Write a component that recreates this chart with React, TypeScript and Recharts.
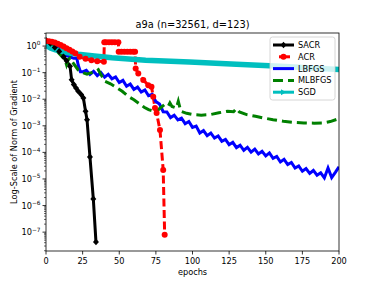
import React from 'react'
import { LineChart, Line, XAxis, YAxis } from 'recharts'

// x = epochs, y = log10(norm of gradient)
const sacrEpochs = [0, 3, 6, 9, 12, 14, 16.4, 17.5, 19, 20.5, 22, 24, 25.5, 27, 28, 30, 32.3, 34.1]
const sacrLog = [0.22, 0.1, -0.05, -0.2, -0.4, -0.55, -0.76, -1.27, -1.45, -1.58, -1.7, -1.82, -1.95, -2.45, -2.77, -4.17, -5.75, -7.37]

const acrEpochs = [0, 2, 4, 6, 8, 10, 12, 14, 16, 18, 20, 23, 27, 31, 35, 39.5, 39.8, 41, 43, 45, 47, 49.4, 49.6, 51.5, 53.5, 55.5, 57.5, 59.5, 60.8, 61.2, 63, 66.4, 69.8, 72, 73.2, 74.4, 75.5, 77.8, 80, 81]
const acrLog = [0.19, 0.18, 0.16, 0.13, 0.09, 0.04, -0.02, -0.08, -0.14, -0.2, -0.27, -0.4, -0.48, -0.53, -0.57, -0.59, 0.14, 0.14, 0.14, 0.14, 0.14, 0.14, -0.21, -0.21, -0.21, -0.21, -0.21, -0.21, -0.21, -0.84, -1.03, -1.28, -1.47, -1.53, -1.91, -2.33, -2.52, -3.16, -4.66, -7.1]

const lbfgsEpochs = [0, 3, 6, 9, 11, 13, 15, 17, 19, 21, 22, 23.5, 25, 27.5, 30, 32.5, 35, 37.5, 40, 42.5, 45, 47.5, 50, 52.5, 55, 57.5, 60, 62.5, 65, 67.5, 70, 72.5, 75, 77.5, 80, 82.5, 85, 87.5, 90, 92.5, 95, 97.5, 100, 102.5, 105, 107.5, 110, 112.5, 115, 117.5, 120, 122.5, 125, 127.5, 130, 132.5, 135, 137.5, 140, 142.5, 145, 147.5, 150, 152.5, 155, 157.5, 160, 162.5, 165, 167.5, 170, 172.5, 175, 177.5, 180, 182.5, 185, 187.5, 190, 192.5, 195, 197.5, 200]
const lbfgsLog = [0.2, 0.12, 0.03, -0.08, -0.2, -0.33, -0.38, -0.42, -0.46, -0.45, -0.72, -0.97, -0.97, -0.91, -1.07, -0.95, -1.11, -1.0, -1.17, -1.06, -1.23, -1.16, -1.37, -1.29, -1.51, -1.43, -1.63, -1.54, -1.73, -1.65, -1.87, -1.82, -2.09, -2.18, -2.47, -2.48, -2.69, -2.6, -2.78, -2.71, -2.92, -2.84, -3.06, -3.01, -3.27, -3.18, -3.37, -3.27, -3.46, -3.38, -3.58, -3.51, -3.71, -3.62, -3.82, -3.73, -3.92, -3.81, -3.99, -3.88, -4.06, -3.96, -4.13, -4.02, -4.22, -4.15, -4.36, -4.26, -4.46, -4.38, -4.59, -4.51, -4.71, -4.61, -4.79, -4.68, -4.86, -4.77, -4.96, -4.59, -4.95, -4.75, -4.54]

const mlbfgsEpochs = [0, 2, 4, 6, 8, 9.6, 11, 13, 14, 15, 16.4, 18, 20, 22, 24, 26, 28, 30, 32, 34, 35.7, 38, 40.3, 44, 47, 52, 56, 60, 63, 67, 70, 73, 75.5, 78, 81, 83.5, 84.6, 86, 89, 90.3, 92, 96, 100.5, 106, 112, 118, 124, 128, 130, 132, 137, 143, 148, 155, 162, 169, 176, 183, 189, 194, 198.4, 200]
const mlbfgsLog = [0.2, 0.1, 0.0, -0.1, -0.22, -0.32, -0.4, -0.52, -0.7, -0.52, -0.45, -0.6, -0.75, -0.9, -0.96, -1.02, -1.06, -1.02, -0.99, -0.95, -0.89, -1.12, -1.33, -1.42, -1.52, -1.7, -1.89, -2.02, -2.14, -2.3, -2.39, -2.44, -2.45, -2.33, -2.2, -2.26, -2.14, -2.27, -2.33, -2.08, -2.45, -2.53, -2.58, -2.6, -2.58, -2.51, -2.45, -2.47, -2.35, -2.48, -2.58, -2.64, -2.7, -2.77, -2.83, -2.87, -2.89, -2.9, -2.89, -2.84, -2.76, -2.72]

const sgdEpochs = [0, 1, 3, 6, 10, 15, 22, 33, 45, 68, 98, 130, 160, 200]
const sgdLog = [0.1, 0.0, -0.07, -0.13, -0.19, -0.25, -0.31, -0.37, -0.44, -0.53, -0.6, -0.68, -0.76, -0.88]

const seriesNames = ['SACR', 'ACR', 'LBFGS', 'MLBFGS', 'SGD']
const seriesColors = ['#000000', '#ff0000', '#0000ff', '#008000', '#00bfbf']

const xTicks = [0, 25, 50, 75, 100, 125, 150, 175, 200]
const yExponents = [-7, -6, -5, -4, -3, -2, -1, 0]

const Y_MIN = 1.95e-8
const Y_MAX = 3.1
const FONT = '"DejaVu Sans", Verdana, sans-serif'

const toRows = (epochs: number[], logs: number[]) =>
  epochs.map((e, i) => ({ e, v: Math.pow(10, logs[i]) }))

const sacrData = toRows(sacrEpochs, sacrLog)
const acrData = toRows(acrEpochs, acrLog)
const lbfgsData = toRows(lbfgsEpochs, lbfgsLog)
const mlbfgsData = toRows(mlbfgsEpochs, mlbfgsLog)
const sgdData = toRows(sgdEpochs, sgdLog)

// major decades plus the 2..9 minor ticks inside the domain
const minorTicks: number[] = []
for (let k = -8; k <= 0; k++) {
  for (let m = 2; m <= 9; m++) {
    const t = m * Math.pow(10, k)
    if (t >= Y_MIN && t <= Y_MAX) minorTicks.push(t)
  }
}
const yTicks = [...yExponents.map((e) => Math.pow(10, e)), ...minorTicks].sort((a, b) => a - b)

function YTick(props: any) {
  const { x, y, payload } = props
  const exp = Math.log10(payload.value)
  const major = Math.abs(exp - Math.round(exp)) < 1e-6
  if (!major) {
    return <line x1={x} x2={x - 2} y1={y} y2={y} stroke="#000" strokeWidth={0.6} />
  }
  const e = Math.round(exp)
  return (
    <g>
      <line x1={x} x2={x - 3.5} y1={y} y2={y} stroke="#000" strokeWidth={0.8} />
      <text x={x - 5.5} y={y + 3} textAnchor="end" fontSize={8.2} fill="#000" fontFamily={FONT}>
        10
        <tspan dy={-3.6} fontSize={5.8}>
          {e < 0 ? '\u2212' + -e : String(e)}
        </tspan>
      </text>
    </g>
  )
}

function XTick(props: any) {
  const { x, y, payload } = props
  return (
    <g>
      <line x1={x} x2={x} y1={y} y2={y + 3.5} stroke="#000" strokeWidth={0.8} />
      <text x={x} y={y + 12.5} textAnchor="middle" fontSize={8.2} fill="#000" fontFamily={FONT}>
        {payload.value}
      </text>
    </g>
  )
}

const diamondDot = (p: any) => (
  <path
    key={`sacr-${p.index}`}
    d={`M${p.cx},${p.cy - 3.3}L${p.cx + 3},${p.cy}L${p.cx},${p.cy + 3.3}L${p.cx - 3},${p.cy}Z`}
    fill="#000"
  />
)

const circleDot = (p: any) => (
  <circle key={`acr-${p.index}`} cx={p.cx} cy={p.cy} r={3} fill="#ff0000" />
)

function Legend() {
  const top = 45
  const step = 11.8
  return (
    <g>
      <rect x={270} y={37} width={65} height={63} rx={2.5} fill="#fff" fillOpacity={0.8} stroke="#cccccc" strokeWidth={0.8} />
      {seriesNames.map((name, i) => {
        const cy = top + i * step
        const c = seriesColors[i]
        return (
          <g key={name}>
            {i === 0 && (
              <>
                <line x1={273} x2={294} y1={cy} y2={cy} stroke={c} strokeWidth={3} />
                <path d={`M283.5,${cy - 3.3}L286.5,${cy}L283.5,${cy + 3.3}L280.5,${cy}Z`} fill={c} />
              </>
            )}
            {i === 1 && (
              <>
                <line x1={279} x2={290} y1={cy} y2={cy} stroke={c} strokeWidth={3} />
                <circle cx={283.5} cy={cy} r={3} fill={c} />
              </>
            )}
            {i === 2 && <line x1={273} x2={294} y1={cy} y2={cy} stroke={c} strokeWidth={3} />}
            {i === 3 && (
              <line x1={273} x2={294} y1={cy} y2={cy} stroke={c} strokeWidth={3} strokeDasharray="10 5" />
            )}
            {i === 4 && (
              <>
                <line x1={273} x2={294} y1={cy} y2={cy} stroke={c} strokeWidth={3} />
                <path d={`M281,${cy - 3}L286,${cy}L281,${cy + 3}Z`} fill={c} />
              </>
            )}
            <text x={298} y={cy + 3} fontSize={8.2} fill="#000" fontFamily={FONT}>
              {name}
            </text>
          </g>
        )
      })}
    </g>
  )
}

export default function App() {
  return (
    <div style={{ position: 'absolute', left: 0, top: 0, width: 376, height: 282, background: '#fff' }}>
      <LineChart width={376} height={282} margin={{ top: 33, right: 37, bottom: 0, left: 0 }}>
        <XAxis
          dataKey="e"
          type="number"
          domain={[0, 200]}
          ticks={xTicks}
          interval={0}
          allowDataOverflow
          height={31}
          tickSize={0}
          tickMargin={0}
          axisLine={false}
          tickLine={false}
          tick={<XTick />}
        />
        <YAxis
          type="number"
          scale="log"
          domain={[Y_MIN, Y_MAX]}
          ticks={yTicks}
          interval={0}
          allowDataOverflow
          width={46}
          tickSize={0}
          tickMargin={0}
          axisLine={false}
          tickLine={false}
          tick={<YTick />}
        />
        <Line data={sacrData} dataKey="v" type="linear" stroke="#000000" strokeWidth={3} dot={diamondDot} isAnimationActive={false} />
        <Line data={acrData} dataKey="v" type="linear" stroke="#ff0000" strokeWidth={3} strokeDasharray="8 3.5" dot={circleDot} isAnimationActive={false} />
        <Line data={lbfgsData} dataKey="v" type="linear" stroke="#0000ff" strokeWidth={3} dot={false} isAnimationActive={false} />
        <Line data={mlbfgsData} dataKey="v" type="linear" stroke="#008000" strokeWidth={3} strokeDasharray="10 5" dot={false} isAnimationActive={false} />
        <Line data={sgdData} dataKey="v" type="linear" stroke="#00bfbf" strokeWidth={5.5} dot={false} isAnimationActive={false} />
      </LineChart>
      <svg width={376} height={282} style={{ position: 'absolute', left: 0, top: 0, pointerEvents: 'none' }}>
        <rect x={46} y={33} width={293} height={218} fill="none" stroke="#000" strokeWidth={0.8} />
        <text x={192.5} y={28} textAnchor="middle" fontSize={9.8} fill="#000" fontFamily={FONT}>
          a9a (n=32561, d=123)
        </text>
        <text x={192.5} y={275} textAnchor="middle" fontSize={8.2} fill="#000" fontFamily={FONT}>
          epochs
        </text>
        <text transform="translate(17,142) rotate(-90)" textAnchor="middle" fontSize={8.2} fill="#000" fontFamily={FONT}>
          Log-Scale of Norm of Gradient
        </text>
        <Legend />
      </svg>
    </div>
  )
}
